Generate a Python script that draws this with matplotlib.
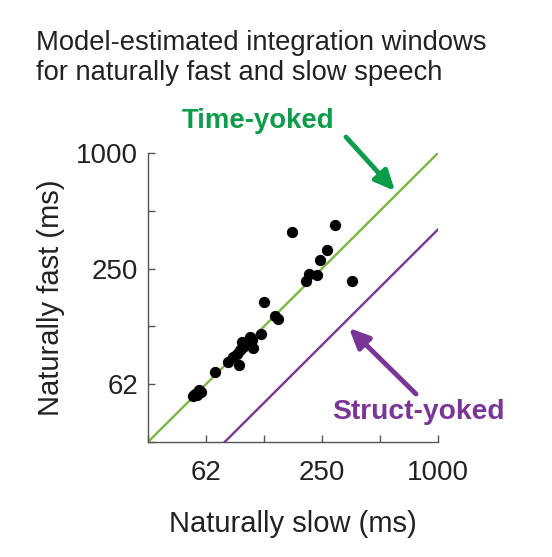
import numpy as np
import matplotlib
matplotlib.use('Agg')
import matplotlib.pyplot as plt

plt.rcParams['font.family'] = ['Liberation Sans', 'DejaVu Sans']

# integration windows (ms)
slow = [54.9, 57.7, 56.3, 53.8, 58.6, 69.6, 81.6, 86.6, 92.7, 90.2, 93.8, 97.7, 95.7,
        100.8, 105.7, 107.8, 110, 120.2, 125, 142.6, 147.2, 175.4, 206.5, 214.8, 234.6,
        244.1, 266.4, 290.9, 356.3]
fast = [55.9, 58.2, 54.9, 54.2, 57.0, 72.4, 81.6, 86.6, 78.4, 90.2, 93.8, 97.7, 103.7,
        101.6, 110, 105.7, 96.9, 114.6, 166.6, 140.8, 135.9, 389, 214.8, 234.6, 232.8,
        277.4, 312.6, 421.5, 214.8]

tick_vals = [31.25, 62.5, 125, 250, 500, 1000]
tick_labels = ['', '62', '', '250', '', '1000']
struct_ratio = 2.5

green_line = '#79b743'
green_text = '#0c9d4a'
purple = '#7b3598'

W, H = 552, 557
fig = plt.figure(figsize=(W / 100, H / 100), dpi=100)
ax = fig.add_axes([148 / W, (H - 442) / H, 290 / W, 289 / H])

lo, hi = tick_vals[0], tick_vals[-1]
ax.plot([lo, hi], [lo, hi], color=green_line, lw=1.7, zorder=2)
ax.plot([lo * struct_ratio, hi], [lo, hi / struct_ratio], color=purple, lw=1.7, zorder=2)
ax.scatter(slow, fast, s=66, color='black', zorder=3, linewidths=0)

ax.set_xscale('log')
ax.set_yscale('log')
ax.set_xlim(lo, hi)
ax.set_ylim(lo, hi)
ax.set_xticks(tick_vals)
ax.set_xticklabels(tick_labels)
ax.set_yticks(tick_vals)
ax.set_yticklabels(tick_labels)
ax.minorticks_off()
ax.tick_params(direction='in', length=5, width=1.0, color='#555555', labelsize=20,
               labelcolor='#222222')
ax.tick_params(axis='x', pad=13)
ax.tick_params(axis='y', pad=7)
for s in ['top', 'right']:
    ax.spines[s].set_visible(False)
for s in ['left', 'bottom']:
    ax.spines[s].set_color('#555555')
    ax.spines[s].set_linewidth(1.0)

ax.set_xlabel('Naturally slow (ms)', fontsize=21, labelpad=17, color='#222222')
ax.set_ylabel('Naturally fast (ms)', fontsize=21, labelpad=8, color='#222222')

fig.text(36 / W, 1 - 80 / H, 'Model-estimated integration windows\nfor naturally fast and slow speech',
         fontsize=19.7, color='#222222', ha='left', va='baseline', linespacing=1.22)

fig.text(258 / W, 1 - 128 / H, 'Time-yoked', fontsize=19.8, fontweight='bold',
         color=green_text, ha='center', va='baseline')
fig.text(418 / W, 1 - 419 / H, 'Struct-yoked', fontsize=20.3, fontweight='bold',
         color=purple, ha='center', va='baseline')

ax.annotate('', xy=(395, H - 191), xytext=(346, H - 137), xycoords='figure pixels',
            textcoords='figure pixels',
            arrowprops=dict(arrowstyle='-|>,head_length=1.2,head_width=0.55', lw=3.5,
                            color=green_text, shrinkA=0, shrinkB=0))
ax.annotate('', xy=(349, H - 328), xytext=(416, H - 394), xycoords='figure pixels',
            textcoords='figure pixels',
            arrowprops=dict(arrowstyle='-|>,head_length=1.2,head_width=0.55', lw=3.5,
                            color=purple, shrinkA=0, shrinkB=0))

fig.savefig('out.png', dpi=100)
